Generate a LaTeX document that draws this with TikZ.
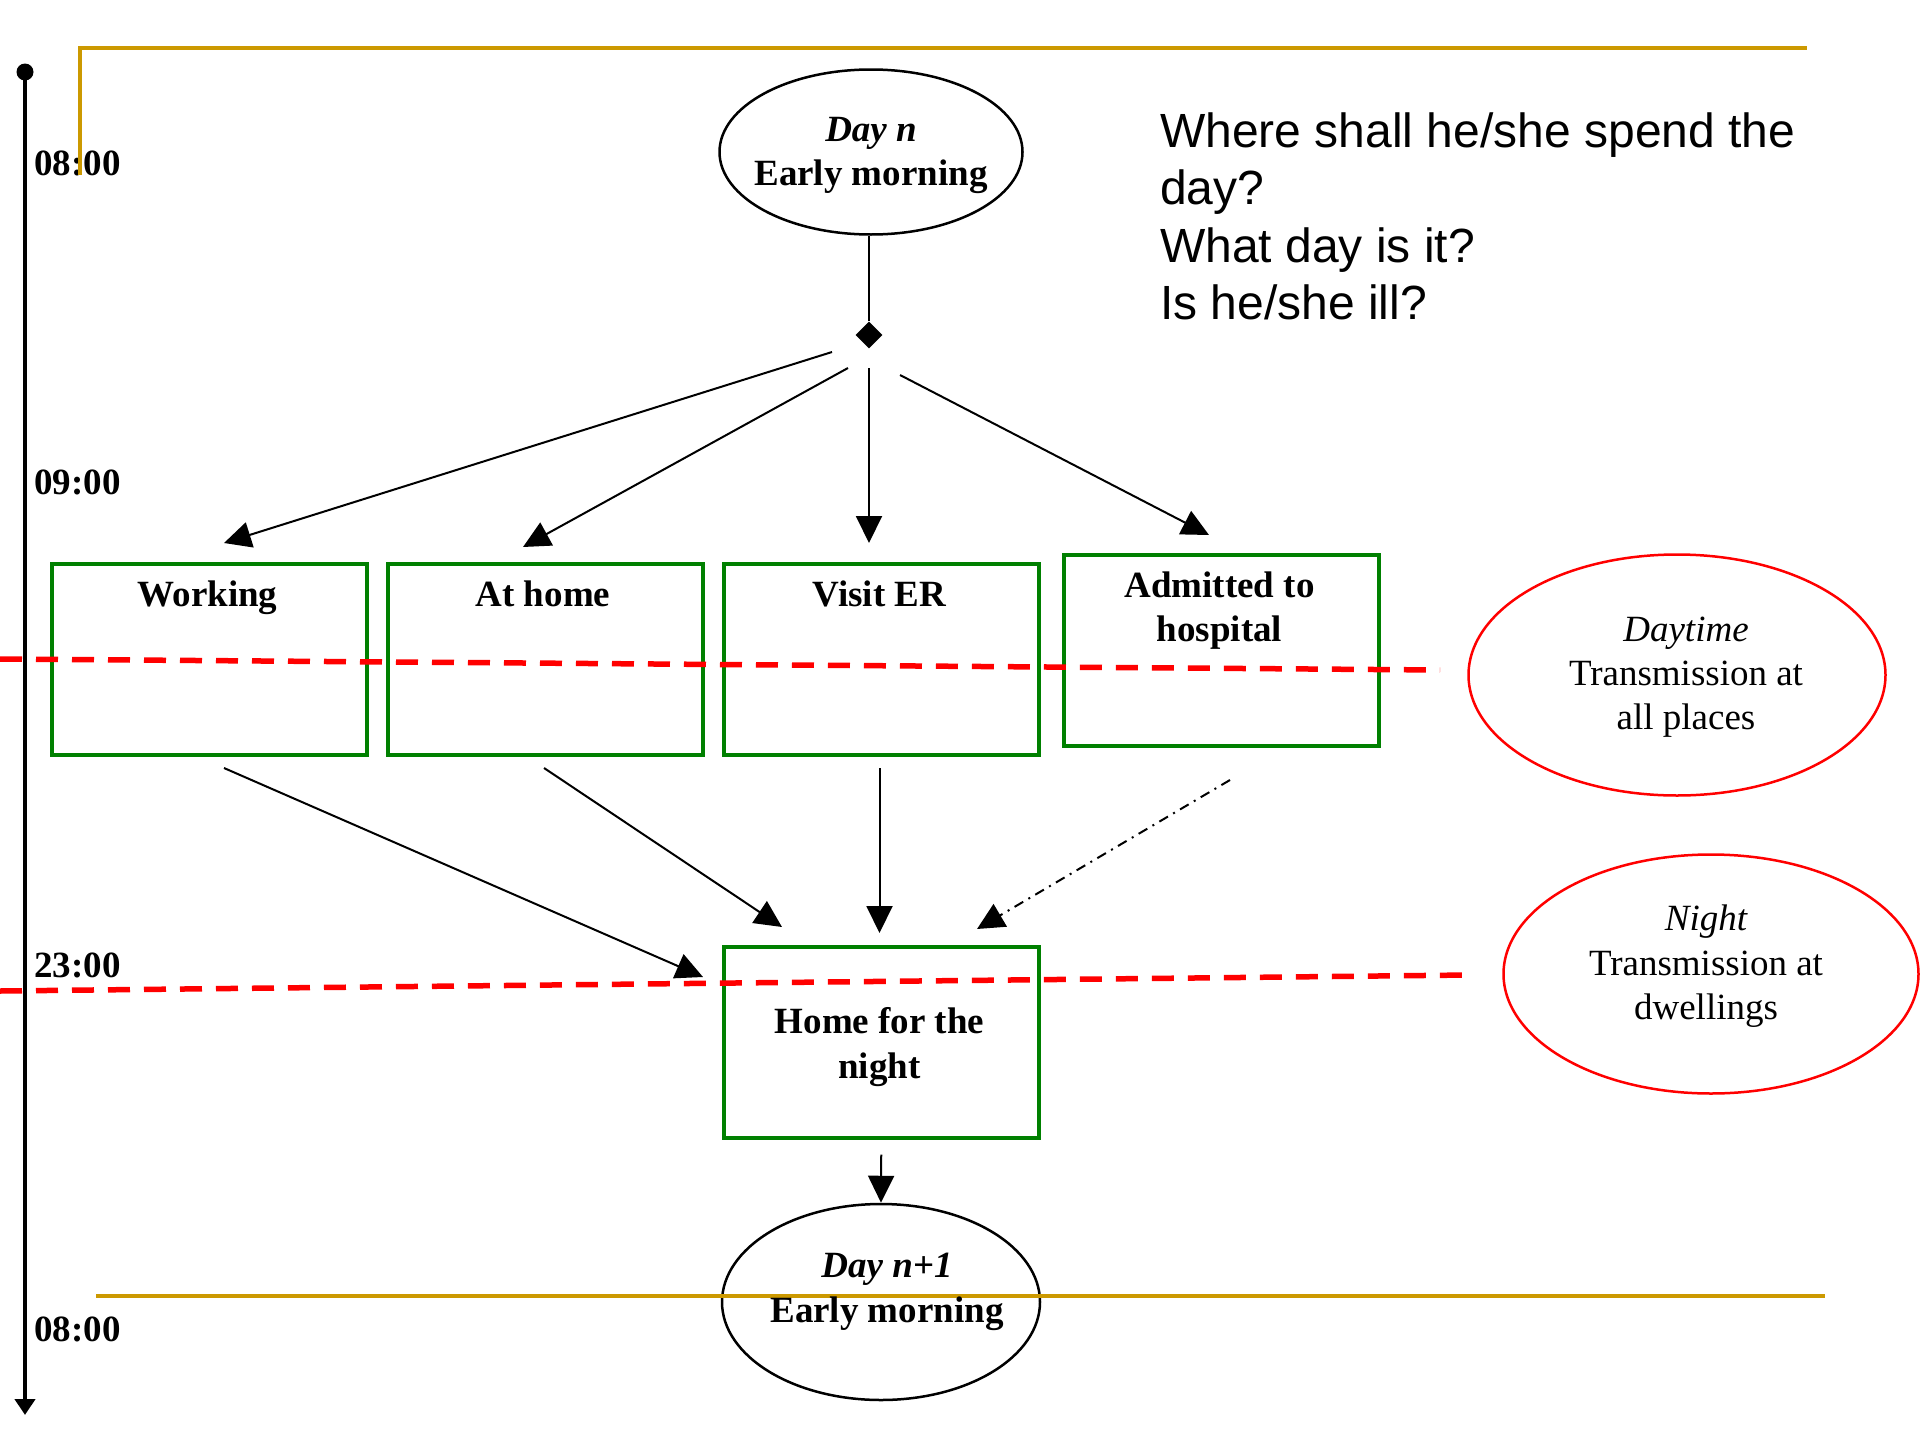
\documentclass[tikz,border=0pt]{standalone}
\usepackage{fontspec}
\setmainfont{Liberation Serif}
\newfontfamily\arialfont{Liberation Sans}
\usetikzlibrary{arrows.meta,shapes.geometric}
\definecolor{gold}{RGB}{204,153,0}
\definecolor{boxgreen}{RGB}{0,128,0}
\begin{document}
\begin{tikzpicture}[x=1pt,y=-1pt,
  big/.style={font=\fontsize{37}{44}\selectfont},
  bigb/.style={font=\fontsize{37}{44}\selectfont\bfseries},
  place/.style={draw=boxgreen, line width=3.5pt, minimum width=315pt, minimum height=191pt, inner sep=0pt, anchor=north west},
  blackell/.style={draw=black, line width=2.5pt, ellipse, inner sep=0pt},
  redell/.style={draw=red, line width=2.5pt, ellipse, inner sep=0pt},
  arr/.style={line width=2pt, -{Triangle[length=27pt,width=26pt]}},
  reddash/.style={draw=red, line width=5.5pt, dash pattern=on 22pt off 14pt},
  goldline/.style={draw=gold, line width=3.5pt},
  timelbl/.style={font=\fontsize{37}{44}\selectfont\bfseries, anchor=base west, inner sep=0pt}
]
\useasboundingbox (0,0) rectangle (1920,1440);

% timeline
\coordinate (tstart) at (25,72);
\coordinate (tend) at (25,1415);
\fill (tstart) circle (8.5pt);
\draw[line width=4pt, -{Triangle[length=16pt,width=20pt]}] (tstart) -- (tend);
\node[timelbl] (t1) at (34,175) {08:00};
\node[timelbl] (t2) at (34,494) {09:00};
\node[timelbl] (t3) at (34,977) {23:00};
\node[timelbl] (t4) at (34,1341) {08:00};

% top ellipse
\node[blackell, minimum width=303pt, minimum height=165pt] (dayn) at (871,152) {};
\node[bigb, anchor=base] (dayntxt1) at (871,141) {\itshape Day n};
\node[bigb, anchor=base] (dayntxt2) at (871,185) {Early morning};

% diamond
\node[diamond, fill=black, minimum width=27pt, minimum height=27pt, inner sep=0pt] (dia) at (869,335) {};
\draw[line width=2pt] (dia.north |- dayn.south) -- (dia.north);

% question text
\node[font=\arialfont\fontsize{48}{57.5}\selectfont, anchor=base west, inner sep=0pt] (q1) at (1160,147) {Where shall he/she spend the};
\node[font=\arialfont\fontsize{48}{57.5}\selectfont, anchor=base west, inner sep=0pt] (q2) at (1160,204.5) {day?};
\node[font=\arialfont\fontsize{48}{57.5}\selectfont, anchor=base west, inner sep=0pt] (q3) at (1160,262) {What day is it?};
\node[font=\arialfont\fontsize{48}{57.5}\selectfont, anchor=base west, inner sep=0pt] (q4) at (1160,319.5) {Is he/she ill?};

% boxes
\node[place] (work) at (50,562) {};
\node[place] (home) at (386,562) {};
\node[place] (visit) at (722,562) {};
\node[place] (adm) at (1062,553) {};
\node[place] (night) at (722,945) {};

\node[bigb, anchor=base] (worktxt) at (207.5,606) {Working};
\node[bigb, anchor=base] (hometxt) at (543,606) {At home};
\node[bigb, anchor=base] (visittxt) at (879.5,606) {Visit ER};
\node[bigb, anchor=base] (admtxt1) at (1219.5,597) {Admitted to};
\node[bigb, anchor=base] (admtxt2) at (1219.5,641) {hospital};
\node[bigb, anchor=base] (nighttxt1) at (879.5,1033) {Home for the};
\node[bigb, anchor=base] (nighttxt2) at (879.5,1078) {night};

% arrows from diamond
\coordinate (s1) at (832,352);
\coordinate (s2) at (848,368);
\coordinate (s3) at (869,368);
\coordinate (s4) at (900,375);
\coordinate (e1) at (224,543);
\coordinate (e2) at (523,547);
\coordinate (e3) at (869,543);
\coordinate (e4) at (1209,535);
\draw[arr] (s1) -- (e1);
\draw[arr] (s2) -- (e2);
\draw[arr] (s3) -- (e3);
\draw[arr] (s4) -- (e4);

% arrows to home for the night
\coordinate (f1) at (224,768);
\coordinate (f2) at (544,768);
\coordinate (f3) at (879.5,768);
\coordinate (f4) at (1230,780);
\coordinate (g1) at (703,977);
\coordinate (g2) at (782,927);
\coordinate (g3) at (879.5,933);
\coordinate (g4) at (977,929);
\draw[arr] (f1) -- (g1);
\draw[arr] (f2) -- (g2);
\draw[arr] (f3) -- (g3);
\draw[arr, dash pattern=on 10pt off 6pt on 2pt off 6pt] (f4) -- (g4);

% bottom ellipse
\node[blackell, minimum width=318pt, minimum height=196pt] (dayn1) at (881,1302) {};
\draw[arr] ([yshift=-15pt]night.south) -- (dayn1.north);

% gold lines
\coordinate (ga) at (80,175);
\coordinate (gb) at (80,48);
\coordinate (gc) at (1807,48);
\draw[goldline] (ga) -- (gb) -- (gc);
\coordinate (gd) at (96,1296);
\coordinate (ge) at (1825,1296);
\draw[goldline] (gd) -- (ge);

\node[bigb, anchor=base] (dayn1txt1) at (887,1277) {\itshape Day n+1};
\node[bigb, anchor=base] (dayn1txt2) at (887,1322) {Early morning};

% red ellipses
\node[redell, minimum width=417pt, minimum height=241pt] (dayt) at (1677,675) {};
\node[big, anchor=base] (daytxt1) at (1686,641) {\itshape Daytime};
\node[big, anchor=base] (daytxt2) at (1686,685) {Transmission at};
\node[big, anchor=base] (daytxt3) at (1686,729) {all places};

\node[redell, minimum width=415pt, minimum height=239pt] (nightell) at (1711,974) {};
\node[big, anchor=base] (ntxt1) at (1706,930) {\itshape Night};
\node[big, anchor=base] (ntxt2) at (1706,975) {Transmission at};
\node[big, anchor=base] (ntxt3) at (1706,1019) {dwellings};

% red dashed lines
\coordinate (r1a) at (0,659);
\coordinate (r1b) at (1440,670);
\coordinate (r2a) at (0,991);
\coordinate (r2b) at (1469,975);
\draw[reddash] (r1a) -- (r1b);
\draw[reddash] (r2a) -- (r2b);
\end{tikzpicture}
\end{document}
